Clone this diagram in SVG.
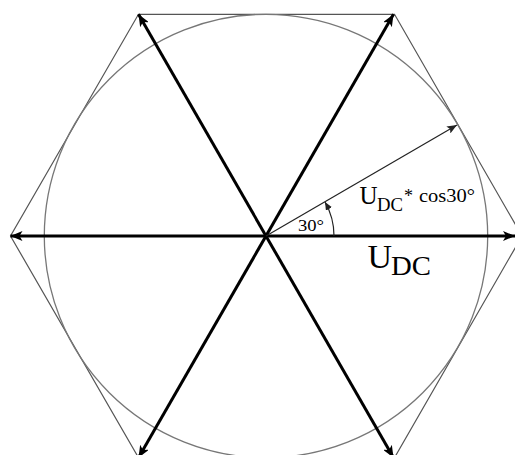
<svg xmlns="http://www.w3.org/2000/svg" width="515" height="455" viewBox="0 0 515 455">
<style>
.hex{fill:none;stroke:#555;stroke-width:1.2}
.circ{fill:none;stroke:#777;stroke-width:1.3}
.bold{stroke:#000;stroke-width:3;fill:none;marker-start:url(#hb);marker-end:url(#he)}
.thin{stroke:#222;stroke-width:1.2;fill:none;marker-end:url(#ht)}
.lbl{fill:#000}
</style>
<defs>
<marker id="he" viewBox="0 0 12 10" refX="12" refY="5" markerWidth="12" markerHeight="10" markerUnits="userSpaceOnUse" orient="auto"><path d="M0,0 L12,5 L0,10 L3,5 Z" fill="#000"/></marker>
<marker id="hb" viewBox="0 0 12 10" refX="0" refY="5" markerWidth="12" markerHeight="10" markerUnits="userSpaceOnUse" orient="auto"><path d="M12,0 L0,5 L12,10 L9,5 Z" fill="#000"/></marker>
<marker id="ht" viewBox="0 0 10 8" refX="10" refY="4" markerWidth="10" markerHeight="8" markerUnits="userSpaceOnUse" orient="auto"><path d="M0,0 L10,4 L0,8 L2,4 Z" fill="#222"/></marker>
<marker id="ha" viewBox="0 0 8 7" refX="8" refY="3.5" markerWidth="8" markerHeight="7" markerUnits="userSpaceOnUse" orient="auto"><path d="M0,0 L8,3.5 L0,7 Z" fill="#222"/></marker>
</defs>
<g id="hexagon"><polygon class="hex" points="138.5,14.3 394.5,14.3 522,236 394.5,457.7 138.5,457.7 10.5,236"/></g>
<g id="circle"><circle class="circ" cx="266" cy="236" r="221.7"/></g>
<g id="connectors">
<line class="bold" x1="10.5" y1="236" x2="515" y2="236"/>
<line class="bold" x1="138.5" y1="14.3" x2="393.5" y2="457.7"/>
<line class="bold" x1="393.5" y1="14.3" x2="138.5" y2="457.7"/>
<line class="thin" x1="266" y1="236" x2="457" y2="125"/>
<path d="M334,236 A68,68 0 0 0 325,202" fill="none" stroke="#222" stroke-width="1.2" marker-end="url(#ha)"/>
</g>
<g id="label-angle"><text class="lbl" font-family="Liberation Serif, serif" x="298" y="231" font-size="17.5" textLength="26" lengthAdjust="spacingAndGlyphs">30°</text></g>
<g id="label-cos"><text class="lbl" font-family="Liberation Serif, serif" y="204" font-size="25"><tspan x="359.5">U</tspan><tspan x="377" y="211" font-size="18" textLength="26" lengthAdjust="spacingAndGlyphs">DC</tspan><tspan x="404" y="202" font-size="18">*</tspan><tspan x="419" y="202" font-size="18.5" textLength="56" lengthAdjust="spacingAndGlyphs">cos30°</tspan></text></g>
<g id="label-udc"><text class="lbl" font-family="Liberation Serif, serif" y="267.5" font-size="34"><tspan x="367.5">U</tspan><tspan x="391" y="275" font-size="28" textLength="40" lengthAdjust="spacingAndGlyphs">DC</tspan></text></g>
</svg>
